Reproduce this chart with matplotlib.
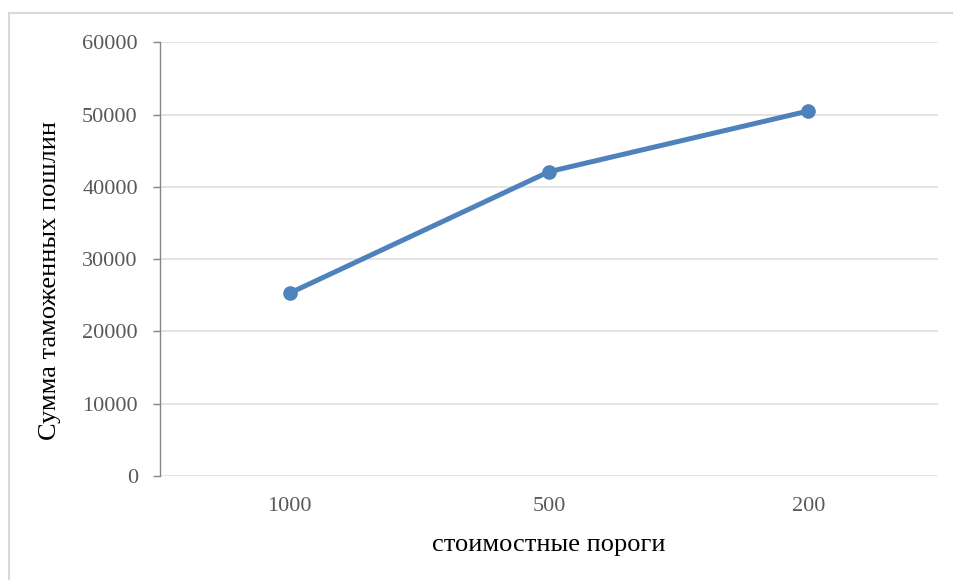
import matplotlib
matplotlib.use("Agg")
import matplotlib.pyplot as plt
from matplotlib.patches import Rectangle

# data
thresholds = ["1000", "500", "200"]
duties = [25300, 42100, 50500]
y_ticks = [0, 10000, 20000, 30000, 40000, 50000, 60000]

plt.rcParams['font.family'] = ['Liberation Serif', 'DejaVu Serif']

fig = plt.figure(figsize=(9.54, 5.8), dpi=100)
ax = fig.add_axes([0.1677, 0.1793, 0.8155, 0.7477])

# light chart-area border (Excel style)
fig.patches.append(Rectangle((9 / 954, -0.05), 1.0, 1.05 - 13 / 580,
                             transform=fig.transFigure, fill=False,
                             edgecolor='#D9D9D9', lw=1.5))

x = range(len(thresholds))
ax.plot(x, duties, color='#4F81BD', lw=3.6, marker='o', markersize=9.5,
        solid_capstyle='round', zorder=3)

ax.set_xlim(-0.5, len(thresholds) - 0.5)
ax.set_ylim(0, 60000)
ax.set_yticks(y_ticks)
ax.set_xticks(list(x))
ax.set_xticklabels(thresholds)

ax.grid(axis='y', color='#DCDCDC', lw=1.1)
ax.set_axisbelow(True)
for side in ('top', 'right', 'bottom'):
    ax.spines[side].set_visible(False)
ax.spines['left'].set_color('#868686')
ax.spines['left'].set_linewidth(1.0)

ax.tick_params(axis='y', length=5, width=1.0, color='#868686',
               labelsize=16, labelcolor='#595959', pad=11)
ax.tick_params(axis='x', length=0, labelsize=16, labelcolor='#595959', pad=15)

ax.set_xlabel('стоимостные пороги', fontsize=19, color='black', labelpad=13)
ax.set_ylabel('Сумма таможенных пошлин', fontsize=19, color='black', labelpad=15)
# the title sits a bit below the middle of the axis in the original
ax.yaxis.label.set_y(0.45)

fig.savefig('out.png', dpi=100)
